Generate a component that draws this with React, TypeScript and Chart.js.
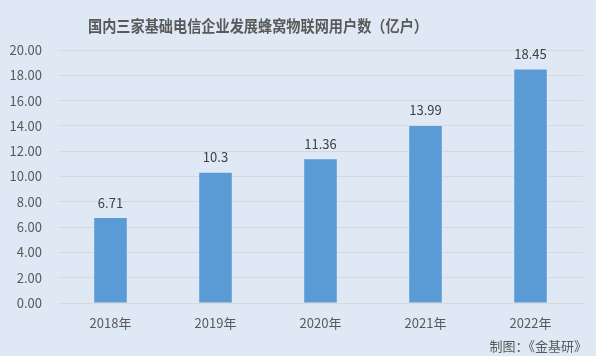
import React, { useEffect, useRef } from "react";
import { Chart, registerables } from "chart.js";
Chart.register(...registerables);

const categories = ["2018年", "2019年", "2020年", "2021年", "2022年"];
const users = [6.71, 10.3, 11.36, 13.99, 18.45];
const valueLabels = ["6.71", "10.3", "11.36", "13.99", "18.45"];
const titleText = "国内三家基础电信企业发展蜂窝物联网用户数（亿户）";
const sourceText = "制图：《金基研》";

const FONT = '"Noto Sans CJK SC", "Microsoft YaHei", sans-serif';
const BG = "#DEE9F5";

const decorPlugin = {
  id: "decor",
  beforeDraw(chart: any) {
    const { ctx, width, height } = chart;
    ctx.save();
    ctx.fillStyle = BG;
    ctx.fillRect(0, 0, width, height);
    ctx.restore();
  },
  afterDatasetsDraw(chart: any) {
    const { ctx } = chart;
    const meta = chart.getDatasetMeta(0);
    ctx.save();
    ctx.font = `13px ${FONT}`;
    ctx.fillStyle = "#404040";
    ctx.textAlign = "center";
    ctx.textBaseline = "middle";
    meta.data.forEach((bar: any, i: number) => {
      ctx.fillText(valueLabels[i], bar.x, bar.y - 15.5);
    });
    ctx.font = `bold 16px ${FONT}`;
    ctx.fillStyle = "#595959";
    ctx.fillText(titleText, 258, 26, 340);
    ctx.font = `13px ${FONT}`;
    ctx.textAlign = "right";
    ctx.fillText(sourceText, 587, 346, 100);
    ctx.restore();
  },
};

export default function App() {
  const ref = useRef<HTMLCanvasElement>(null);
  useEffect(() => {
    document.body.style.margin = "0";
    document.body.style.background = BG;
    const chart = new Chart(ref.current!, {
      type: "bar",
      data: {
        labels: categories,
        datasets: [
          {
            data: users,
            backgroundColor: "#5B9BD5",
            barPercentage: 0.31,
            categoryPercentage: 1,
          },
        ],
      },
      options: {
        animation: false,
        responsive: false,
        maintainAspectRatio: false,
        layout: { padding: { top: 50, right: 13, left: 0, bottom: 0 } },
        plugins: {
          legend: { display: false },
          title: { display: false },
          tooltip: { enabled: false },
        },
        scales: {
          x: {
            grid: { display: false, drawTicks: false },
            border: { display: true, color: "#D9D9D9", width: 1 },
            ticks: {
              color: "#595959",
              font: { family: FONT, size: 13 },
              padding: 12,
              maxRotation: 0,
            },
            afterFit(scale: any) {
              scale.height = 53;
            },
          },
          y: {
            min: 0,
            max: 20,
            grid: { color: "#D9D9D9", drawTicks: false },
            border: { display: false },
            ticks: {
              stepSize: 2,
              color: "#595959",
              font: { family: FONT, size: 13 },
              padding: 16,
              callback: (v: any) => Number(v).toFixed(2),
            },
            afterFit(scale: any) {
              scale.width = 58;
            },
          },
        },
      },
      plugins: [decorPlugin],
    });
    return () => chart.destroy();
  }, []);
  return <canvas ref={ref} width={596} height={356} style={{ display: "block" }} />;
}
